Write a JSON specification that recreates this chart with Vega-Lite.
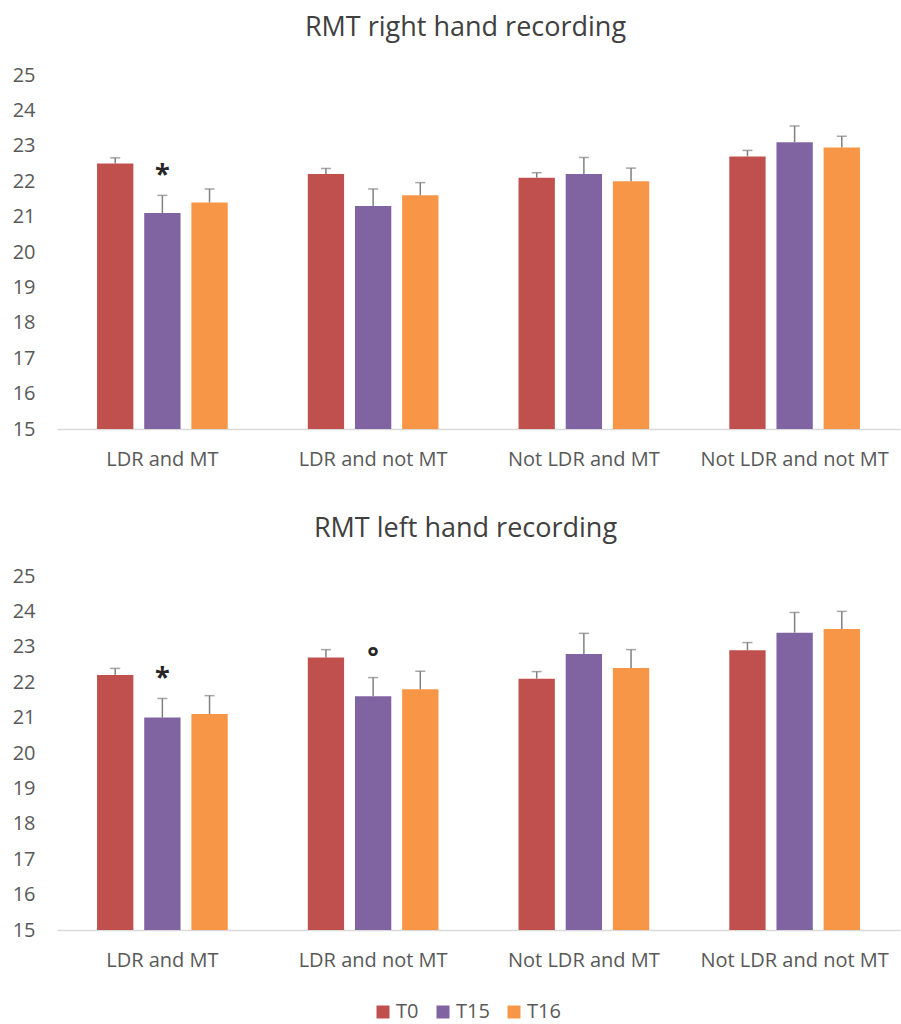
{
  "$schema": "https://vega.github.io/schema/vega-lite/v6.json",
  "background": "white",
  "padding": {"left": 12, "top": 14, "right": 1, "bottom": 0},
  "spacing": 46,
  "datasets": {
    "rmt": [
      {"hand": "right", "group": "LDR and MT", "time": "T0", "mean": 22.5, "upper": 22.66, "note": ""},
      {"hand": "right", "group": "LDR and MT", "time": "T15", "mean": 21.1, "upper": 21.6, "note": "*"},
      {"hand": "right", "group": "LDR and MT", "time": "T16", "mean": 21.4, "upper": 21.78, "note": ""},
      {"hand": "right", "group": "LDR and not MT", "time": "T0", "mean": 22.2, "upper": 22.36, "note": ""},
      {"hand": "right", "group": "LDR and not MT", "time": "T15", "mean": 21.3, "upper": 21.78, "note": ""},
      {"hand": "right", "group": "LDR and not MT", "time": "T16", "mean": 21.6, "upper": 21.96, "note": ""},
      {"hand": "right", "group": "Not LDR and MT", "time": "T0", "mean": 22.1, "upper": 22.24, "note": ""},
      {"hand": "right", "group": "Not LDR and MT", "time": "T15", "mean": 22.2, "upper": 22.67, "note": ""},
      {"hand": "right", "group": "Not LDR and MT", "time": "T16", "mean": 22.0, "upper": 22.37, "note": ""},
      {"hand": "right", "group": "Not LDR and not MT", "time": "T0", "mean": 22.7, "upper": 22.87, "note": ""},
      {"hand": "right", "group": "Not LDR and not MT", "time": "T15", "mean": 23.1, "upper": 23.56, "note": ""},
      {"hand": "right", "group": "Not LDR and not MT", "time": "T16", "mean": 22.95, "upper": 23.27, "note": ""},
      {"hand": "left", "group": "LDR and MT", "time": "T0", "mean": 22.2, "upper": 22.39, "note": ""},
      {"hand": "left", "group": "LDR and MT", "time": "T15", "mean": 21.0, "upper": 21.54, "note": "*"},
      {"hand": "left", "group": "LDR and MT", "time": "T16", "mean": 21.1, "upper": 21.62, "note": ""},
      {"hand": "left", "group": "LDR and not MT", "time": "T0", "mean": 22.7, "upper": 22.92, "note": ""},
      {"hand": "left", "group": "LDR and not MT", "time": "T15", "mean": 21.6, "upper": 22.13, "note": "°"},
      {"hand": "left", "group": "LDR and not MT", "time": "T16", "mean": 21.8, "upper": 22.31, "note": ""},
      {"hand": "left", "group": "Not LDR and MT", "time": "T0", "mean": 22.1, "upper": 22.3, "note": ""},
      {"hand": "left", "group": "Not LDR and MT", "time": "T15", "mean": 22.8, "upper": 23.38, "note": ""},
      {"hand": "left", "group": "Not LDR and MT", "time": "T16", "mean": 22.4, "upper": 22.92, "note": ""},
      {"hand": "left", "group": "Not LDR and not MT", "time": "T0", "mean": 22.9, "upper": 23.12, "note": ""},
      {"hand": "left", "group": "Not LDR and not MT", "time": "T15", "mean": 23.4, "upper": 23.97, "note": ""},
      {"hand": "left", "group": "Not LDR and not MT", "time": "T16", "mean": 23.5, "upper": 24.0, "note": ""}
    ]
  },
  "vconcat": [
    {
      "title": {"text": "RMT right hand recording", "dx": -13},
      "width": 843,
      "height": 354,
      "data": {"name": "rmt"},
      "transform": [{"filter": "datum.hand === 'right'"}],
      "encoding": {
        "x": {
          "field": "group", "type": "nominal",
          "sort": ["LDR and MT", "LDR and not MT", "Not LDR and MT", "Not LDR and not MT"],
          "scale": {"paddingInner": 0.38, "paddingOuter": 0.19},
          "axis": {"title": null}
        },
        "xOffset": {"field": "time", "type": "nominal", "sort": ["T0", "T15", "T16"], "scale": {"paddingInner": 0.23}}
      },
      "layer": [
        {
          "mark": {"type": "bar"},
          "encoding": {
            "y": {"field": "mean", "type": "quantitative", "scale": {"domain": [15, 25], "nice": false, "zero": false}, "axis": {"title": null}},
            "y2": {"datum": 15},
            "color": {"field": "time", "type": "nominal", "sort": ["T0", "T15", "T16"],
              "scale": {"domain": ["T0", "T15", "T16"], "range": ["#C0504D", "#8064A2", "#F79646"]},
              "legend": {"title": null, "orient": "none", "legendX": 316, "legendY": 927, "direction": "horizontal"}}
          }
        },
        {
          "mark": {"type": "rule", "color": "#808080", "strokeWidth": 1.5},
          "encoding": {"y": {"field": "mean", "type": "quantitative"}, "y2": {"field": "upper"}}
        },
        {
          "mark": {"type": "tick", "color": "#808080", "size": 10, "thickness": 1.5},
          "encoding": {"y": {"field": "upper", "type": "quantitative"}}
        },
        {
          "mark": {"type": "text", "dy": -20, "fontSize": 27, "fontWeight": "bold", "baseline": "middle", "color": "#262626"},
          "encoding": {"y": {"field": "upper", "type": "quantitative"}, "text": {"field": "note"}}
        }
      ]
    },
    {
      "title": {"text": "RMT left hand recording", "dx": -13},
      "width": 843,
      "height": 354,
      "data": {"name": "rmt"},
      "transform": [{"filter": "datum.hand === 'left'"}],
      "encoding": {
        "x": {
          "field": "group", "type": "nominal",
          "sort": ["LDR and MT", "LDR and not MT", "Not LDR and MT", "Not LDR and not MT"],
          "scale": {"paddingInner": 0.38, "paddingOuter": 0.19},
          "axis": {"title": null}
        },
        "xOffset": {"field": "time", "type": "nominal", "sort": ["T0", "T15", "T16"], "scale": {"paddingInner": 0.23}}
      },
      "layer": [
        {
          "mark": {"type": "bar"},
          "encoding": {
            "y": {"field": "mean", "type": "quantitative", "scale": {"domain": [15, 25], "nice": false, "zero": false}, "axis": {"title": null}},
            "y2": {"datum": 15},
            "color": {"field": "time", "type": "nominal", "sort": ["T0", "T15", "T16"],
              "scale": {"domain": ["T0", "T15", "T16"], "range": ["#C0504D", "#8064A2", "#F79646"]},
              "legend": {"title": null, "orient": "none", "legendX": 316, "legendY": 927, "direction": "horizontal"}}
          }
        },
        {
          "mark": {"type": "rule", "color": "#808080", "strokeWidth": 1.5},
          "encoding": {"y": {"field": "mean", "type": "quantitative"}, "y2": {"field": "upper"}}
        },
        {
          "mark": {"type": "tick", "color": "#808080", "size": 10, "thickness": 1.5},
          "encoding": {"y": {"field": "upper", "type": "quantitative"}}
        },
        {
          "mark": {"type": "text", "dy": -20, "fontSize": 27, "fontWeight": "bold", "baseline": "middle", "color": "#262626"},
          "encoding": {"y": {"field": "upper", "type": "quantitative"}, "text": {"field": "note"}}
        }
      ]
    }
  ],
  "resolve": {"scale": {"color": "shared"}},
  "config": {
    "font": "Open Sans",
    "view": {"stroke": null},
    "title": {"fontSize": 27, "fontWeight": "normal", "color": "#404040", "anchor": "middle", "offset": 23},
    "axisY": {"domain": false, "ticks": false, "grid": false, "values": [15, 16, 17, 18, 19, 20, 21, 22, 23, 24, 25],
      "labelFontSize": 20, "labelColor": "#595959", "labelPadding": 22},
    "axisX": {"domain": true, "domainColor": "#d9d9d9", "domainWidth": 1.5, "ticks": false, "grid": false,
      "labelAngle": 0, "labelFontSize": 20, "labelColor": "#595959", "labelPadding": 20, "labelLimit": 400},
    "legend": {"symbolType": "square", "symbolSize": 169, "labelFontSize": 20, "labelColor": "#595959", "columnPadding": 14, "symbolStrokeWidth": 0, "labelOffset": 3}
  }
}
